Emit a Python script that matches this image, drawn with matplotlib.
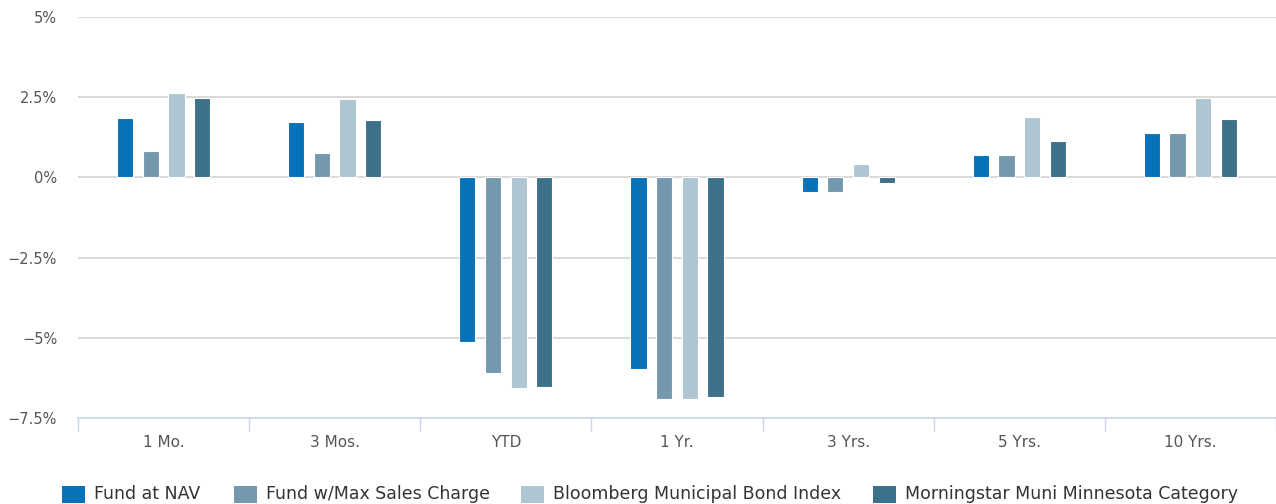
import numpy as np
import matplotlib.pyplot as plt
from matplotlib.patches import Rectangle

categories = ["1 Mo.", "3 Mos.", "YTD", "1 Yr.", "3 Yrs.", "5 Yrs.", "10 Yrs."]
fund_nav = [1.84, 1.72, -5.13, -5.98, -0.44, 0.69, 1.39]
fund_max = [0.83, 0.75, -6.11, -6.92, -0.44, 0.69, 1.39]
bloomberg = [2.64, 2.44, -6.57, -6.92, 0.42, 1.87, 2.48]
morningstar = [2.48, 1.79, -6.52, -6.85, -0.16, 1.14, 1.83]

series = [
    ("Fund at NAV", fund_nav, "#0672b8"),
    ("Fund w/Max Sales Charge", fund_max, "#7499af"),
    ("Bloomberg Municipal Bond Index", bloomberg, "#aec5d2"),
    ("Morningstar Muni Minnesota Category", morningstar, "#3d7189"),
]
y_ticks = [-7.5, -5, -2.5, 0, 2.5, 5]
y_labels = ["\u22127.5%", "\u22125%", "\u22122.5%", "0%", "2.5%", "5%"]

W, H = 1276, 504
fig = plt.figure(figsize=(W / 100, H / 100), dpi=100)
ax = fig.add_axes([78 / W, 86 / H, 1 - 78 / W, 401 / H])

x = np.arange(len(categories))
step = 0.15
width = 0.095
for i, (name, vals, color) in enumerate(series):
    ax.bar(x + (i - 1.5) * step, vals, width, color=color,
           edgecolor="white", linewidth=0.8, zorder=3)

ax.set_ylim(-7.5, 5)
ax.set_xlim(-0.5, -0.5 + (W - 78) / 172)
ax.set_yticks(y_ticks)
ax.set_yticklabels(y_labels)
ax.yaxis.grid(True, color="#d3d3d3", linewidth=1.2, zorder=0)
ax.tick_params(axis="y", length=0, pad=15, labelsize=10.5, labelcolor="#555555")

ax.set_xticks(x)
ax.set_xticklabels(categories)
ax.set_xticks(np.arange(len(categories) + 1) - 0.5, minor=True)
ax.tick_params(axis="x", which="major", length=0, pad=12, labelsize=11,
               labelcolor="#555555")
ax.tick_params(axis="x", which="minor", length=9, width=1, color="#ccd6eb")

for s in ["top", "right", "left"]:
    ax.spines[s].set_visible(False)
ax.spines["bottom"].set_color("#ccd6eb")
ax.spines["bottom"].set_linewidth(1.2)
ax.spines["bottom"].set_zorder(4)

# legend row along the bottom
leg_x = [62, 234, 521, 873]
for (name, _, color), lx in zip(series, leg_x):
    fig.add_artist(Rectangle((lx / W, 1 / H), 23 / W, 17 / H,
                             transform=fig.transFigure, facecolor=color,
                             edgecolor="none"))
    fig.text((lx + 32) / W, 10 / H, name, fontsize=12.5, color="#333333",
             va="center", ha="left")

fig.savefig("out.png", dpi=100)
